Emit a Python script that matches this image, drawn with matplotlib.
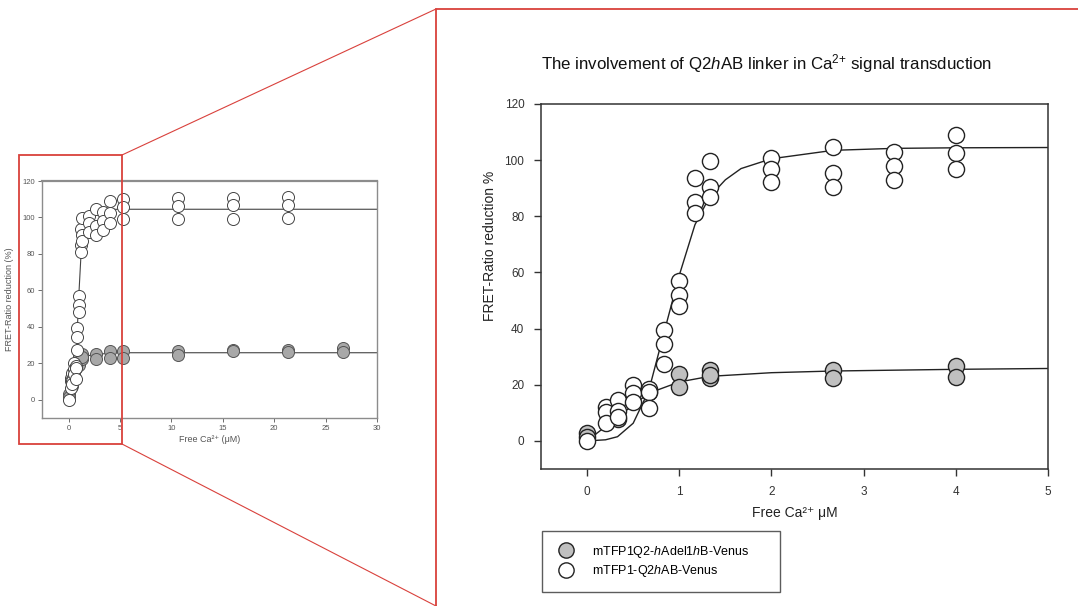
import numpy as np
import matplotlib
matplotlib.use('Agg')
import matplotlib.pyplot as plt
from matplotlib.lines import Line2D
from matplotlib.patches import Rectangle

plt.rcParams['font.family'] = ['Liberation Sans', 'DejaVu Sans']
plt.rcParams['mathtext.fontset'] = 'custom'
plt.rcParams['mathtext.rm'] = 'Liberation Sans'
plt.rcParams['mathtext.it'] = 'Liberation Sans:italic'

# data (free Ca2+ in uM, FRET ratio reduction %)
open_x = [0, 0.2, 0.2, 0.2, 0.33, 0.33, 0.33, 0.5, 0.5, 0.5, 0.67, 0.67, 0.67,
          0.83, 0.83, 0.83, 1.0, 1.0, 1.0, 1.17, 1.17, 1.17, 1.33, 1.33, 1.33,
          2.0, 2.0, 2.0, 2.67, 2.67, 2.67, 3.33, 3.33, 3.33, 4.0, 4.0, 4.0]
open_y = [0.1, 12.2, 10.3, 6.3, 14.6, 10.5, 8.5, 20.0, 17.0, 14.0, 18.4, 17.6, 11.6,
          39.5, 34.4, 27.3, 57.0, 52.0, 48.0, 93.5, 85.0, 81.3, 99.6, 90.4, 87.0,
          100.6, 97.0, 92.2, 104.7, 95.5, 90.5, 103.0, 97.9, 93.1, 108.9, 102.6, 96.8]
gray_x = [0, 0, 0.33, 0.67, 1.0, 1.0, 1.33, 1.33, 1.33, 2.67, 2.67, 4.0, 4.0]
gray_y = [3.0, 1.5, 7.8, 17.5, 23.8, 19.3, 25.3, 22.3, 23.5, 25.3, 22.3, 26.7, 22.7]

# extra points only visible in the full-range inset
open_x_far = [5.33, 5.33, 5.33, 10.67, 10.67, 10.67, 16, 16, 16, 21.33, 21.33, 21.33]
open_y_far = [110, 106, 99, 110.5, 106.3, 99, 110.9, 106.9, 99.3, 111, 107, 99.8]
gray_x_far = [5.33, 5.33, 10.67, 10.67, 16, 16, 21.33, 21.33, 26.67, 26.67]
gray_y_far = [26.5, 22.8, 26.8, 24.7, 27.4, 26.8, 27.4, 26.0, 28.3, 26.0]

# fitted curves as drawn
fit_open_x = [0, 0.2, 0.33, 0.5, 0.67, 0.83, 1.0, 1.17, 1.33, 1.5, 1.67, 2.0, 2.67, 3.33, 4.0, 5.0]
fit_open_y = [0, 0.4, 1.5, 6.3, 18, 38, 59, 77, 87, 93, 97, 100.5, 103.5, 104.2, 104.4, 104.5]
fit_gray_x = [0, 0.33, 0.67, 1.0, 1.33, 2.0, 2.67, 4.0, 5.0]
fit_gray_y = [0, 8.5, 17, 21, 23, 24.3, 24.9, 25.5, 25.8]

labels = ['mTFP1Q2-$\\it{h}$Adel1$\\it{h}$B-Venus', 'mTFP1-Q2$\\it{h}$AB-Venus']
gray_fc = '#c0c0c0'

W, H = 1078, 606
fig = plt.figure(figsize=(W / 100, H / 100), dpi=100)


def fx(px):
    return px / W


def fy(py):
    return 1 - py / H


# ---------------- small full-range plot ----------------
ax1 = fig.add_axes([fx(42), fy(418), fx(377) - fx(42), fy(181) - fy(418)])
ax1.plot(fit_open_x + [30], fit_open_y + [104.5], color='#444444', lw=0.8, zorder=2)
ax1.plot(fit_gray_x + [30], fit_gray_y + [25.8], color='#444444', lw=0.8, zorder=2)
ax1.scatter(gray_x + gray_x_far, gray_y + gray_y_far, s=75, facecolor='#a8a8a8',
            edgecolor='#555555', linewidth=0.7, zorder=3)
ax1.scatter(open_x + open_x_far, open_y + open_y_far, s=75, facecolor='white',
            edgecolor='#444444', linewidth=0.7, zorder=4)
ax1.set_xlim(-2.6, 30)
ax1.set_ylim(-10, 120)
ax1.set_xticks([0, 5, 10, 15, 20, 25, 30])
ax1.set_yticks([0, 20, 40, 60, 80, 100, 120])
for s in ax1.spines.values():
    s.set_color('#8c8c8c')
    s.set_linewidth(1.0)
ax1.spines['top'].set_linewidth(1.6)
ax1.tick_params(labelsize=5.5, colors='#555555', length=3, width=0.6, pad=2)
ax1.set_xlabel('Free Ca²⁺ (μM)', fontsize=6.5, color='#555555', labelpad=2)
ax1.set_ylabel('FRET-Ratio reduction (%)', fontsize=6.5, color='#555555', labelpad=6)

# ---------------- zoomed plot ----------------
ax2 = fig.add_axes([fx(541), fy(469), fx(1048) - fx(541), fy(104) - fy(469)])
ax2.plot(fit_open_x, fit_open_y, color='#222222', lw=1.0, zorder=2)
ax2.plot(fit_gray_x, fit_gray_y, color='#222222', lw=1.0, zorder=2)
ax2.scatter(gray_x, gray_y, s=135, facecolor=gray_fc, edgecolor='#222222',
            linewidth=1.0, zorder=3)
ax2.scatter(open_x, open_y, s=135, facecolor='white', edgecolor='#222222',
            linewidth=1.0, zorder=4)
ax2.set_xlim(-0.5, 5)
ax2.set_ylim(-10, 120)
ax2.set_xticks([0, 1, 2, 3, 4, 5])
ax2.set_yticks([0, 20, 40, 60, 80, 100, 120])
for s in ax2.spines.values():
    s.set_color('#333333')
    s.set_linewidth(1.1)
ax2.tick_params(labelsize=8.5, colors='#333333', length=5, width=1.0, pad=7)
ax2.set_xlabel('Free Ca²⁺ μM', fontsize=10, color='#222222', labelpad=6)
fig.text(fx(490), fy(246), 'FRET-Ratio reduction %', rotation=90, fontsize=10,
         color='#222222', ha='center', va='center')
fig.text(fx(767), fy(64), 'The involvement of Q2$\\it{h}$AB linker in Ca$^{2{+}}$ signal transduction',
         fontsize=12.2, color='#111111', ha='center', va='center')

# legend
handles = [Line2D([], [], ls='', marker='o', markersize=11, markerfacecolor=gray_fc,
                  markeredgecolor='#222222', markeredgewidth=1.0),
           Line2D([], [], ls='', marker='o', markersize=11, markerfacecolor='white',
                  markeredgecolor='#222222', markeredgewidth=1.0)]
leg = fig.legend(handles, labels, loc='upper left',
                 bbox_to_anchor=(fx(542), fy(591), fx(780) - fx(542), fy(531) - fy(591)),
                 mode='expand', fontsize=9, frameon=True, fancybox=False,
                 edgecolor='#333333', borderpad=1.0, labelspacing=0.3,
                 handletextpad=1.1, handlelength=1.9, borderaxespad=0)
leg.get_frame().set_linewidth(1.0)

# red zoom box and connector lines
red = '#d9413c'
fig.add_artist(Rectangle((fx(19), fy(444)), fx(122) - fx(19), fy(155) - fy(444),
                         fill=False, edgecolor=red, lw=1.3, transform=fig.transFigure))
fig.add_artist(Rectangle((fx(436), fy(620)), fx(1100) - fx(436), fy(9) - fy(620),
                         fill=False, edgecolor=red, lw=1.3, transform=fig.transFigure,
                         clip_on=False))
fig.add_artist(Line2D([fx(122), fx(436)], [fy(155), fy(9)], color=red, lw=0.8,
                      transform=fig.transFigure))
fig.add_artist(Line2D([fx(122), fx(436)], [fy(444), fy(606)], color=red, lw=0.8,
                      transform=fig.transFigure))

fig.savefig('out.png', dpi=100)
